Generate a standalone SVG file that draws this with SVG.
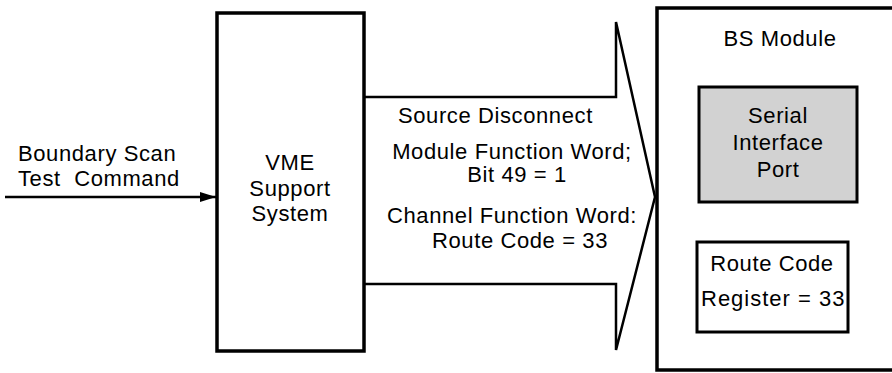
<svg xmlns="http://www.w3.org/2000/svg" width="892" height="373" viewBox="0 0 892 373">
<style>
text { font-family: "Liberation Sans", Arial, sans-serif; font-size: 22px; letter-spacing: 0.6px; fill: #000; }
.c { text-anchor: middle; }
.box { fill: #fff; stroke: #000; stroke-width: 3.5; }
.inner { stroke: #000; stroke-width: 3; }
.conn { fill: none; stroke: #000; stroke-width: 2.5; }
</style>
<defs>
<marker id="ah" markerWidth="16" markerHeight="10" refX="16" refY="5" orient="auto" markerUnits="userSpaceOnUse">
<path d="M0,0 L16,5 L0,10 Z" fill="#000"/>
</marker>
</defs>
<g id="connectors">
<line class="conn" x1="5" y1="197" x2="216" y2="197" marker-end="url(#ah)"/>
<polyline class="conn" stroke-width="2" points="364,97 616,97 616,22 655,197 616,350 616,284 364,284"/>
</g>
<g id="label-command">
<text x="18" y="161">Boundary Scan</text>
<text x="18" y="186" xml:space="preserve">Test  Command</text>
</g>
<g id="vme">
<rect class="box" x="217" y="13" width="147" height="338"/>
<text class="c" x="290" y="170">VME</text>
<text class="c" x="290" y="196">Support</text>
<text class="c" x="290" y="221">System</text>
</g>
<g id="arrow-labels">
<text x="398" y="123">Source Disconnect</text>
<text class="c" x="512" y="159">Module Function Word;</text>
<text class="c" x="517" y="182">Bit 49 = 1</text>
<text class="c" x="512" y="223">Channel Function Word:</text>
<text class="c" x="520" y="248">Route Code = 33</text>
</g>
<g id="bs-module">
<rect class="box" x="657" y="8" width="250" height="362"/>
<text class="c" x="780" y="46">BS Module</text>
</g>
<g id="serial-port">
<rect class="inner" fill="#d2d2d2" x="699" y="87" width="158" height="115"/>
<text class="c" x="778" y="123">Serial</text>
<text class="c" x="778" y="150">Interface</text>
<text class="c" x="778" y="177">Port</text>
</g>
<g id="route-register">
<rect class="inner" fill="#fff" x="697" y="242" width="151" height="90"/>
<text class="c" x="772" y="271">Route Code</text>
<text x="701" y="306" textLength="144" lengthAdjust="spacing">Register = 33</text>
</g>
</svg>
